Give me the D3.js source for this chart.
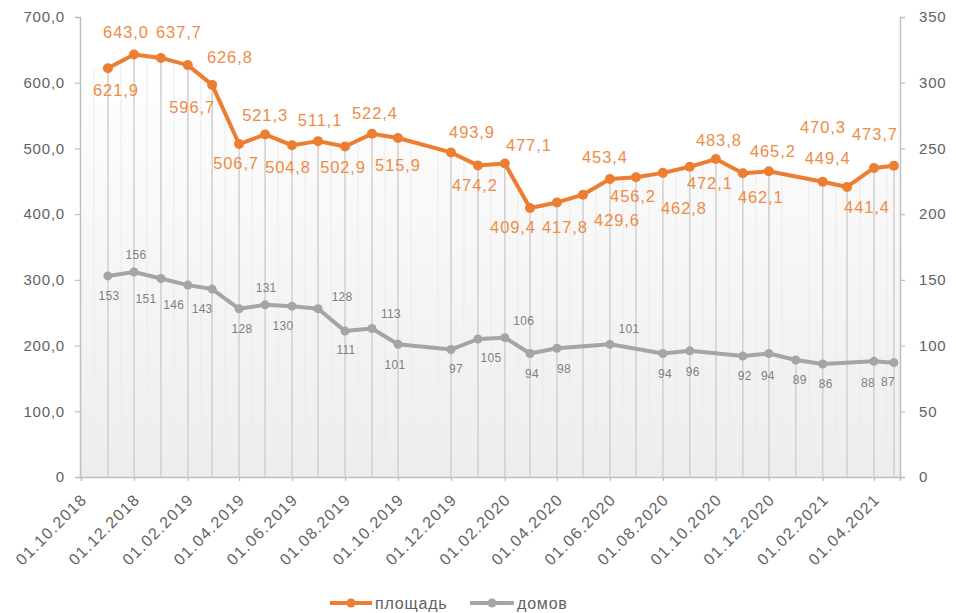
<!DOCTYPE html>
<html>
<head>
<meta charset="utf-8">
<script src="https://cdn.jsdelivr.net/npm/d3@7"></script>
<style>
  html, body { margin: 0; padding: 0; background: #ffffff; }
  svg { display: block; font-family: "Liberation Sans", Arial, sans-serif; }
</style>
</head>
<body>
<svg id="chart" width="956" height="613"></svg>
<script>
// Monthly observation dates (one reading is taken late in April 2021)
const dates = [
  "2018-11-01", "2018-12-01", "2019-01-01", "2019-02-01", "2019-03-01", "2019-04-01",
  "2019-05-01", "2019-06-01", "2019-07-01", "2019-08-01", "2019-09-01", "2019-10-01",
  "2019-12-01", "2020-01-01", "2020-02-01", "2020-03-01", "2020-04-01", "2020-05-01",
  "2020-06-01", "2020-07-01", "2020-08-01", "2020-09-01", "2020-10-01", "2020-11-01",
  "2020-12-01", "2021-01-01", "2021-02-01", "2021-03-01", "2021-04-01", "2021-04-24"
];

// площадь, left axis (null = no reading that month)
const areaValues = [
  621.9, 643.0, 637.7, 626.8, 596.7, 506.7,
  521.3, 504.8, 511.1, 502.9, 522.4, 515.9,
  493.9, 474.2, 477.1, 409.4, 417.8, 429.6,
  453.4, 456.2, 462.8, 472.1, 483.8, 462.1,
  465.2, null, 449.4, 441.4, 470.3, 473.7
];

// домов, right axis
const houseValues = [
  153, 156, 151, 146, 143, 128,
  131, 130, 128, 111, 113, 101,
  97, 105, 106, 94, 98, null,
  101, null, 94, 96, null, 92,
  94, 89, 86, null, 88, 87
];

const seriesNames = ["площадь", "домов"];
const leftTicks = [0, 100, 200, 300, 400, 500, 600, 700];
const rightTicks = [0, 50, 100, 150, 200, 250, 300, 350];
const xTickDates = [
  "2018-10-01", "2018-12-01", "2019-02-01", "2019-04-01", "2019-06-01", "2019-08-01",
  "2019-10-01", "2019-12-01", "2020-02-01", "2020-04-01", "2020-06-01", "2020-08-01",
  "2020-10-01", "2020-12-01", "2021-02-01", "2021-04-01"
];

// Hand-placed label nudges [dx, dy] from each marker, so labels avoid the lines
const areaLabelNudge = [
  [8, 22], [-8, -22], [18, -26], [42, -8], [-20, 22], [-3, 19],
  [0, -19], [-4, 22], [2, -21], [-2, 21], [3, -21], [0, 27],
  [21, -20], [-3, 20], [24, -18], [-17, 19], [8, 25], [34, 25],
  [-5, -22], [-3, 19], [21, 35], [20, 16], [3, -19], [18, 24],
  [4, -20], null, [5, -24], [20, 20], [-51, -41], [-19, -32]
];
const houseLabelNudge = [
  [1, 20], [2, -17], [-15, 20], [-14, 20], [-10, 20], [3, 20],
  [1, -17], [-9, 20], [24, -12], [1, 19], [19, -15], [-3, 20],
  [5, 19], [13, 19], [19, -17], [2, 20], [7, 20], null,
  [19, -16], null, [2, 20], [3, 21], null, [2, 20],
  [-1, 22], [4, 20], [3, 20], null, [-6, 21], [-6, 19]
];

const ORANGE = "#ED7D31";
const ORANGE_TEXT = "#EE8C45";
const GREY = "#A5A5A5";
const GREY_TEXT = "#808080";
const AXIS_TEXT = "#626262";
const AXIS_LINE = "#BFBFBF";

const parse = d3.utcParse("%Y-%m-%d");
const ru = d3.formatLocale({ decimal: ",", thousands: " ", grouping: [3], currency: ["", ""] });
const fmt1 = ru.format(".1f");
const fmtDate = d3.utcFormat("%d.%m.%Y");

const svg = d3.select("#chart");
const plot = { left: 81, right: 900, top: 17, bottom: 477 };

const x = d3.scaleUtc()
  .domain([parse("2018-10-01"), parse("2021-05-01")])
  .range([plot.left, plot.right]);
const yL = d3.scaleLinear().domain([0, 700]).range([plot.bottom, plot.top]);
const yR = d3.scaleLinear().domain([0, 350]).range([plot.bottom, plot.top]);

const rows = dates.map((d, i) => ({
  date: parse(d), area: areaValues[i], houses: houseValues[i], i
}));
const areaRows = rows.filter(r => r.area != null);
const houseRows = rows.filter(r => r.houses != null);

// Soft grey fill under the площадь line
const defs = svg.append("defs");
const grad = defs.append("linearGradient")
  .attr("id", "underFill")
  .attr("gradientUnits", "userSpaceOnUse")
  .attr("x1", 0).attr("x2", 0)
  .attr("y1", yL(650)).attr("y2", yL(0));
grad.append("stop").attr("offset", 0).attr("stop-color", "#ffffff");
grad.append("stop").attr("offset", 1).attr("stop-color", "#ededed");

const underArea = d3.area()
  .x(r => x(r.date)).y0(plot.bottom).y1(r => yL(r.area));
const areaPts = [{ date: x.domain()[0], area: areaRows[0].area }]
  .concat(areaRows)
  .concat([{ date: x.domain()[1], area: areaRows[areaRows.length - 1].area }]);

defs.append("clipPath").attr("id", "underClip")
  .append("path").attr("d", underArea(areaPts));

svg.append("path")
  .attr("d", underArea(areaPts))
  .attr("fill", "url(#underFill)");

// faint mid-month stripes inside the filled region
const stripes = svg.append("g").attr("clip-path", "url(#underClip)");
d3.utcMonths(parse("2018-10-01"), parse("2021-05-01")).forEach(m => {
  const mid = d3.utcDay.offset(m, 15);
  stripes.append("line")
    .attr("x1", x(mid)).attr("x2", x(mid))
    .attr("y1", plot.top).attr("y2", plot.bottom)
    .attr("stroke", "#ebebeb").attr("stroke-width", 1);
});

// drop lines from the highest marker of each date down to the axis
rows.forEach(r => {
  const tops = [];
  if (r.area != null) tops.push(yL(r.area));
  if (r.houses != null) tops.push(yR(r.houses));
  const top = d3.min(tops);
  svg.append("line")
    .attr("x1", x(r.date)).attr("x2", x(r.date))
    .attr("y1", top).attr("y2", plot.bottom)
    .attr("stroke", "#d2d2d2").attr("stroke-width", 1.6);
});

// Axes
const axisL = svg.append("g").attr("transform", `translate(${plot.left - 1},0)`)
  .call(d3.axisLeft(yL).tickValues(leftTicks).tickSize(5).tickPadding(10)
    .tickFormat(v => v === 0 ? "0" : fmt1(v)));
const axisR = svg.append("g").attr("transform", `translate(${plot.right},0)`)
  .call(d3.axisRight(yR).tickValues(rightTicks).tickSize(5).tickPadding(14)
    .tickFormat(d3.format("d")));
const axisB = svg.append("g").attr("transform", `translate(0,${plot.bottom})`)
  .call(d3.axisBottom(x).tickValues(xTickDates.map(parse)).tickSize(4).tickFormat(fmtDate));

[axisL, axisR, axisB].forEach(g => {
  g.select(".domain").attr("stroke", AXIS_LINE).attr("stroke-width", 1.5);
  g.selectAll(".tick line").attr("stroke", AXIS_LINE).attr("stroke-width", 1.2);
  g.selectAll("text").attr("fill", AXIS_TEXT).attr("font-size", 15)
    .attr("letter-spacing", 0.8)
    .attr("font-family", "'Liberation Sans', Arial, sans-serif");
});
axisB.selectAll(".tick text")
  .attr("text-anchor", "end")
  .attr("font-size", 16)
  .attr("letter-spacing", 1.3)
  .attr("transform", "translate(-2,15) rotate(-45)")
  .attr("dy", "0.75em")
  .attr("y", 0);

// Series lines
const lineArea = d3.line().x(r => x(r.date)).y(r => yL(r.area));
const lineHouses = d3.line().x(r => x(r.date)).y(r => yR(r.houses));

svg.append("path").datum(houseRows).attr("d", lineHouses)
  .attr("fill", "none").attr("stroke", GREY).attr("stroke-width", 4)
  .attr("stroke-linejoin", "round");
svg.selectAll("circle.h").data(houseRows).join("circle").attr("class", "h")
  .attr("cx", r => x(r.date)).attr("cy", r => yR(r.houses)).attr("r", 4.5)
  .attr("fill", GREY);

svg.append("path").datum(areaRows).attr("d", lineArea)
  .attr("fill", "none").attr("stroke", ORANGE).attr("stroke-width", 4)
  .attr("stroke-linejoin", "round");
svg.selectAll("circle.a").data(areaRows).join("circle").attr("class", "a")
  .attr("cx", r => x(r.date)).attr("cy", r => yL(r.area)).attr("r", 5)
  .attr("fill", ORANGE);

// Value labels
svg.selectAll("text.al").data(areaRows).join("text").attr("class", "al")
  .attr("x", r => x(r.date) + areaLabelNudge[r.i][0])
  .attr("y", r => yL(r.area) + areaLabelNudge[r.i][1])
  .attr("dy", "0.36em")
  .attr("text-anchor", "middle")
  .attr("font-size", 16.5).attr("letter-spacing", 0.9)
  .attr("fill", ORANGE_TEXT)
  .text(r => fmt1(r.area));

svg.selectAll("text.hl").data(houseRows).join("text").attr("class", "hl")
  .attr("x", r => x(r.date) + houseLabelNudge[r.i][0])
  .attr("y", r => yR(r.houses) + houseLabelNudge[r.i][1])
  .attr("dy", "0.36em")
  .attr("text-anchor", "middle")
  .attr("font-size", 12).attr("letter-spacing", 0.3)
  .attr("fill", GREY_TEXT)
  .text(r => r.houses);

// Legend
const legend = svg.append("g").attr("transform", "translate(330,603)");
const legendItems = [
  { name: seriesNames[0], color: ORANGE, x: 0, w: 42 },
  { name: seriesNames[1], color: GREY, x: 140, w: 44 }
];
legendItems.forEach(it => {
  const g = legend.append("g").attr("transform", `translate(${it.x},0)`);
  g.append("line").attr("x1", 0).attr("x2", it.w).attr("y1", 0).attr("y2", 0)
    .attr("stroke", it.color).attr("stroke-width", 4);
  g.append("circle").attr("cx", it.w / 2).attr("cy", 0).attr("r", 4.5).attr("fill", it.color);
  g.append("text").attr("x", it.w + 3).attr("y", 0).attr("dy", "0.35em")
    .attr("font-size", 16).attr("letter-spacing", 0.8).attr("fill", AXIS_TEXT)
    .text(it.name);
});
</script>
</body>
</html>
